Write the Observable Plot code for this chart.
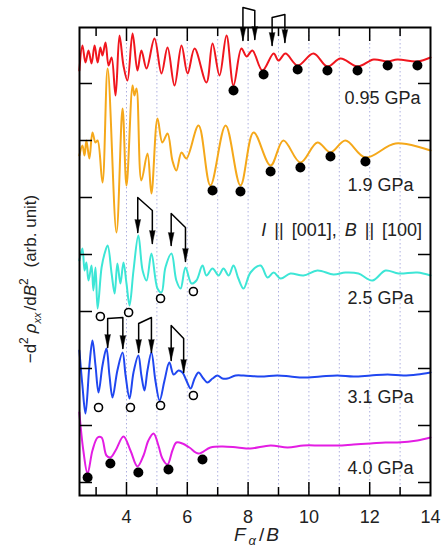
<!DOCTYPE html>
<html><head><meta charset="utf-8">
<script src="https://cdn.jsdelivr.net/npm/d3@7"></script>
<script src="https://cdn.jsdelivr.net/npm/@observablehq/plot@0.6"></script>
<style>body{margin:0;background:#fff;} #chart{width:441px;height:549px;}</style>
</head><body><div id="chart"></div>
<script>
// x = F_alpha / B, y = -d2rho/dB2 (arb. unit, curves offset)
const curve095 = [[2.45,412],[2.55,437],[2.65,420],[2.75,432],[2.85,419],[2.95,437],[3.05,420],[3.14,435],[3.21,427],[3.31,440],[3.41,417],[3.51,425],[3.64,387],[3.77,447],[3.90,417],[4.03,402],[4.20,449],[4.36,412],[4.49,432],[4.66,414],[4.92,444],[5.15,409],[5.35,435],[5.58,397],[5.81,437],[6.01,409],[6.24,434],[6.63,400],[6.83,439],[7.06,407],[7.29,447],[7.52,397],[7.78,434],[7.95,426],[8.14,432],[8.47,412],[8.84,429],[9.00,422],[9.23,429],[9.63,417],[10.15,429],[10.61,416],[11.04,424],[11.60,416],[12.13,423],[12.59,421],[12.91,423],[13.57,421],[14.00,425]];
const curve19 = [[2.45,327],[2.55,337],[2.62,327],[2.68,342],[2.78,324],[2.88,350],[2.98,340],[3.05,342],[3.21,300],[3.38,414],[3.67,250],[3.87,374],[4.00,297],[4.20,397],[4.26,387],[4.33,394],[4.49,302],[4.69,329],[4.82,289],[5.02,364],[5.18,340],[5.35,349],[5.51,322],[5.64,312],[5.81,330],[5.97,324],[6.37,357],[6.76,297],[7.26,357],[7.75,297],[8.18,350],[8.74,317],[9.16,342],[9.72,320],[10.28,340],[10.71,330],[11.20,342],[11.86,325],[12.85,339],[14.00,332]];
const curve25 = [[2.45,222],[2.55,234],[2.62,212],[2.68,220],[2.75,202],[2.85,217],[2.91,192],[2.98,215],[3.05,174],[3.18,215],[3.28,229],[3.38,237],[3.51,209],[3.61,189],[3.70,219],[3.80,199],[3.90,220],[4.00,199],[4.10,177],[4.23,212],[4.39,247],[4.53,212],[4.66,202],[4.82,229],[5.02,194],[5.15,190],[5.28,215],[5.48,229],[5.64,202],[5.78,194],[5.94,215],[6.14,199],[6.30,202],[6.50,217],[6.63,207],[6.83,214],[7.03,207],[7.19,214],[7.36,207],[7.52,217],[7.68,204],[7.85,194],[8.08,210],[8.41,217],[8.64,205],[8.84,210],[9.07,204],[9.39,209],[9.82,207],[10.28,212],[10.81,208],[11.20,210],[11.63,209],[12.09,202],[12.52,212],[12.95,209],[13.57,210],[14.00,207]];
const curve31 = [[2.45,132],[2.55,97],[2.65,69],[2.78,117],[2.88,142],[2.98,117],[3.08,90],[3.21,117],[3.34,134],[3.44,107],[3.54,85],[3.70,112],[3.87,130],[3.97,107],[4.10,84],[4.23,110],[4.39,127],[4.49,107],[4.59,92],[4.69,112],[4.82,130],[4.95,102],[5.09,82],[5.25,102],[5.41,120],[5.55,108],[5.71,112],[5.84,110],[5.97,102],[6.11,94],[6.24,104],[6.37,110],[6.53,104],[6.66,100],[6.83,104],[6.99,107],[7.16,104],[7.32,104],[7.59,107],[7.85,107],[8.41,106],[8.97,107],[9.39,106],[9.82,105],[10.38,106],[10.94,107],[11.47,106],[12.03,107],[12.59,108],[13.11,107],[13.57,108],[14.00,110]];
const curve40 = [[2.45,70],[2.58,32],[2.72,9],[2.88,32],[3.05,45],[3.18,45],[3.34,27],[3.47,25],[3.64,32],[3.90,46],[4.13,32],[4.36,16],[4.56,27],[4.72,42],[4.89,49],[5.05,37],[5.18,24],[5.35,18],[5.51,32],[5.64,40],[5.84,39],[6.07,35],[6.37,29],[6.76,35],[7.16,36],[7.65,35],[8.08,34],[8.74,37],[9.30,35],[9.82,37],[10.38,37],[10.94,37],[11.47,38],[12.03,39],[12.52,40],[12.91,40],[13.57,42],[14.00,45]];

// markers: filled (●) and open (○)
const filledDots = [[7.52,392],[8.51,408],[9.63,413],[10.61,412],[11.60,412],[12.59,417],[13.57,417],
  [6.83,292],[7.75,291],[8.74,311],[9.72,315],[10.71,326],[11.86,321],
  [2.72,5],[3.47,19],[4.39,10],[5.38,13],[6.50,23]];
const openDots = [[3.14,166],[4.07,170],[5.12,184],[6.20,191],
  [3.08,75],[4.13,75],[5.12,77],[6.20,87]];

// arrow brackets (tip, top, top, tip)
const bracket1 = [[7.83,442],[7.83,475],[8.22,472],[8.22,443]];
const bracket2 = [[8.79,437],[8.79,465],[9.21,468],[9.21,440]];
const bracket3 = [[4.37,250],[4.37,285],[4.85,272],[4.85,239]];
const bracket4 = [[5.47,237],[5.47,269],[5.94,255],[5.94,221]];
const bracket5 = [[3.38,135],[3.38,164],[3.88,165],[3.88,134]];
const bracket6 = [[4.40,130],[4.40,159],[4.82,165],[4.82,130]];
const bracket7 = [[5.47,122],[5.47,157],[5.88,144],[5.88,110]];

const pressureLabels = ["0.95 GPa","1.9 GPa","2.5 GPa","3.1 GPa","4.0 GPa"];
const labelX = [13.67,13.44,13.44,13.44,13.44];
const labelY = [384,297,184,85,14];
const colors = ["#f0161e","#f5a81a","#3de6d6","#2047f0","#e31de3"];

const xMajor = [4,6,8,10,12];
const xMinor = [3,5,7,9,11,13];
const xTickLabels = [4,6,8,10,12,14];
const gridX = [4,5,6,7,8,9,10,11,12,13];
const yTicks = [0,57,114,171,228,285,342,399];

const curves = [curve095, curve19, curve25, curve31, curve40];
const brackets = [bracket1,bracket2,bracket3,bracket4,bracket5,bracket6,bracket7];
const bracketRows = brackets.flatMap((b,i) => b.map(([x,y]) => ({x,y,id:i})));
const tips = brackets.flatMap(b => [b[0], b[3]]);
const labelRows = pressureLabels.map((t,i) => ({t, x: labelX[i], y: labelY[i]}));

const W = 441, H = 549, mL = 79, mR = 11, mT = 27, mB = 54;
const tickStyle = {fill: "none", label: null, stroke: "black", strokeWidth: 1.5};

const plot = Plot.plot({
  width: W, height: H,
  marginLeft: mL, marginRight: mR, marginTop: mT, marginBottom: mB,
  x: {domain: [2.454, 14]},
  y: {domain: [-13, 455]},
  style: {fontFamily: "'Liberation Sans', Arial, sans-serif", fontSize: "18px", color: "black", background: "white", overflow: "visible"},
  marks: [
    Plot.ruleX(gridX, {stroke: "#aeb0e0", strokeDasharray: "1.5,2.5", strokeWidth: 1}),
    ...curves.map((c,i) => Plot.line(c, {x: d => d[0], y: d => d[1], stroke: colors[i], strokeWidth: 2, curve: "catmull-rom"})),
    Plot.line(bracketRows, {x: "x", y: "y", z: "id", stroke: "black", strokeWidth: 1.5}),
    Plot.vector(tips, {x: d => d[0], y: d => d[1], length: 13, rotate: 180, anchor: "end", shape: "spike", r: 2.8, fill: "black", stroke: "black", strokeWidth: 0.5}),
    Plot.dot(filledDots, {x: d => d[0], y: d => d[1], r: 5, fill: "black"}),
    Plot.dot(openDots, {x: d => d[0], y: d => d[1], r: 4, fill: "white", stroke: "black", strokeWidth: 1.6}),
    Plot.frame({stroke: "black", strokeWidth: 2}),
    Plot.axisX(xMajor, {anchor: "bottom", tickSize: 13, dy: -13, ...tickStyle}),
    Plot.axisX(xMinor, {anchor: "bottom", tickSize: 8, dy: -8, ...tickStyle}),
    Plot.axisX(xMajor, {anchor: "top", tickSize: 13, dy: 13, ...tickStyle}),
    Plot.axisX(xMinor, {anchor: "top", tickSize: 8, dy: 8, ...tickStyle}),
    Plot.axisY(yTicks, {anchor: "left", tickSize: 13, dx: 13, ...tickStyle}),
    Plot.axisY(yTicks, {anchor: "right", tickSize: 13, dx: -13, ...tickStyle}),
    Plot.axisX(xTickLabels, {anchor: "bottom", tickSize: 0, tickPadding: 15, fontSize: 18, label: null, fill: "#222"}),
    Plot.text(labelRows, {x: "x", y: "y", text: "t", textAnchor: "end", fontSize: 18, fill: "#222"})
  ]
});

// rich-text labels
const svg = d3.select(plot);
const sx = plot.scale("x"), sy = plot.scale("y");

// condition label
const cond = svg.append("text")
  .attr("x", sx.apply(13.74)).attr("y", sy.apply(246))
  .attr("text-anchor", "end").attr("font-size", 18).attr("fill", "#222")
  .style("word-spacing", "3px");
cond.append("tspan").attr("font-style", "italic").text("I");
cond.append("tspan").text(" || [001], ");
cond.append("tspan").attr("font-style", "italic").text("B");
cond.append("tspan").text(" || [100]");

// x label
const xl = svg.append("text")
  .attr("x", (mL + W - mR) / 2 + 2).attr("y", H - 8)
  .attr("text-anchor", "middle").attr("font-size", 19).attr("fill", "#222");
xl.append("tspan").attr("font-style", "italic").text("F");
xl.append("tspan").attr("font-style", "italic").attr("font-size", 13).attr("dx", 3).attr("dy", 4).text("α");
xl.append("tspan").attr("dx", 3).attr("dy", -4).text("/");
xl.append("tspan").attr("font-style", "italic").attr("dx", 2).text("B");

// y label
const yl = svg.append("text")
  .attr("transform", `translate(36,${(mT + H - mB) / 2 + 18}) rotate(-90)`)
  .attr("text-anchor", "middle").attr("font-size", 17).attr("fill", "#222");
yl.append("tspan").text("−d");
yl.append("tspan").attr("font-size", 12).attr("dy", -8).text("2");
yl.append("tspan").attr("font-style", "italic").attr("dx", 4).attr("dy", 8).text("ρ");
yl.append("tspan").attr("font-style", "italic").attr("font-size", 11).attr("dy", 5).text("xx");
yl.append("tspan").attr("dx", 2).attr("dy", -5).text("/d");
yl.append("tspan").attr("font-style", "italic").text("B");
yl.append("tspan").attr("font-size", 12).attr("dy", -8).text("2");
yl.append("tspan").attr("dx", 6).attr("dy", 8).text(" (arb. unit)");

document.getElementById("chart").append(plot);
</script>
</body></html>
